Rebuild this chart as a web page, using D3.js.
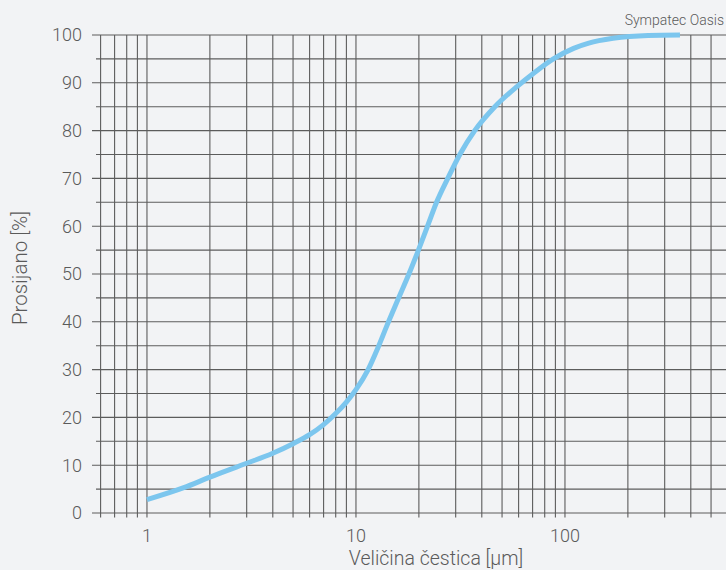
<!DOCTYPE html>
<html>
<head>
<meta charset="utf-8">
<script src="https://cdn.jsdelivr.net/npm/d3@7"></script>
<style>
  html, body { margin: 0; padding: 0; background: #f2f3f5; }
  svg { display: block; }
  text { font-family: Roboto, "DejaVu Sans", sans-serif; font-weight: 300; fill: #5a5a5a; }
</style>
</head>
<body>
<svg id="chart" width="726" height="570"></svg>
<script>
// ---- data ----
const sizes   = [1, 1.5, 2, 3, 4, 5, 6, 7, 8, 9, 10, 11.4, 12.8, 14, 15.9, 18, 19.9, 22, 24.3, 27.5, 31.4, 37, 46.2, 58.9, 70.8, 88, 110, 130, 170, 250, 355];
const passing = [2.8, 5.3, 7.5, 10.4, 12.5, 14.5, 16.4, 18.5, 20.8, 23.2, 25.8, 29.9, 34.8, 39, 44.7, 50.2, 55, 60, 65, 70, 75, 80, 85, 89.2, 92, 95, 97.2, 98.3, 99.3, 99.9, 100];
const xTickLabels = [1, 10, 100];
const yTickLabels = [0, 10, 20, 30, 40, 50, 60, 70, 80, 90, 100];
const xGridValues = [0.6, 0.7, 0.8, 0.9, 1, 2, 3, 4, 5, 6, 7, 8, 9, 10, 20, 30, 40, 50, 60, 70, 80, 90, 100, 200, 300, 400, 500];
const yGridValues = d3.range(0, 101, 5);
const title = "Sympatec Oasis";
const xTitle = "Veličina čestica [μm]";
const yTitle = "Prosijano [%]";

// ---- layout ----
const W = 726, H = 570;
const x = d3.scaleLog().domain([0.6, 600]).range([100.6, 727.6]);
const y = d3.scaleLinear().domain([0, 100]).range([513, 35]);

const svg = d3.select("#chart");
const gridColor = "#5c5c5c";

// horizontal gridlines
svg.append("g").selectAll("line").data(yGridValues).join("line")
  .attr("x1", d => d % 10 === 0 ? 92 : 96)
  .attr("x2", W)
  .attr("y1", d => y(d)).attr("y2", d => y(d))
  .attr("stroke", gridColor).attr("stroke-width", 1.1);

// vertical gridlines
svg.append("g").selectAll("line").data(xGridValues).join("line")
  .attr("x1", d => x(d)).attr("x2", d => x(d))
  .attr("y1", y(100))
  .attr("y2", y(0) + 4.5)
  .attr("stroke", gridColor).attr("stroke-width", 1.1);

// y tick labels
svg.append("g").selectAll("text").data(yTickLabels).join("text")
  .attr("x", 82).attr("y", d => y(d))
  .attr("dy", "0.36em")
  .attr("text-anchor", "end")
  .style("font-size", "18px")
  .text(d => d);

// x tick labels
svg.append("g").selectAll("text").data(xTickLabels).join("text")
  .attr("x", d => x(d)).attr("y", 542)
  .attr("text-anchor", "middle")
  .style("font-size", "18px")
  .text(d => d);

// curve
const line = d3.line().x(d => x(d[0])).y(d => y(d[1])).curve(d3.curveMonotoneX);
svg.append("path")
  .datum(sizes.map((s, i) => [s, passing[i]]))
  .attr("d", line)
  .attr("fill", "none")
  .attr("stroke", "#7cc6ee")
  .attr("stroke-width", 5)
  .attr("stroke-linecap", "butt")
  .attr("stroke-linejoin", "round");

// titles
svg.append("text").attr("x", 724).attr("y", 25)
  .attr("text-anchor", "end").style("font-size", "14px").text(title);

svg.append("text").attr("x", 436).attr("y", 564.5)
  .attr("text-anchor", "middle").style("font-size", "19.5px").text(xTitle);

svg.append("text")
  .attr("transform", "translate(27,268) rotate(-90)")
  .attr("text-anchor", "middle").style("font-size", "20.5px").text(yTitle);
</script>
</body>
</html>
